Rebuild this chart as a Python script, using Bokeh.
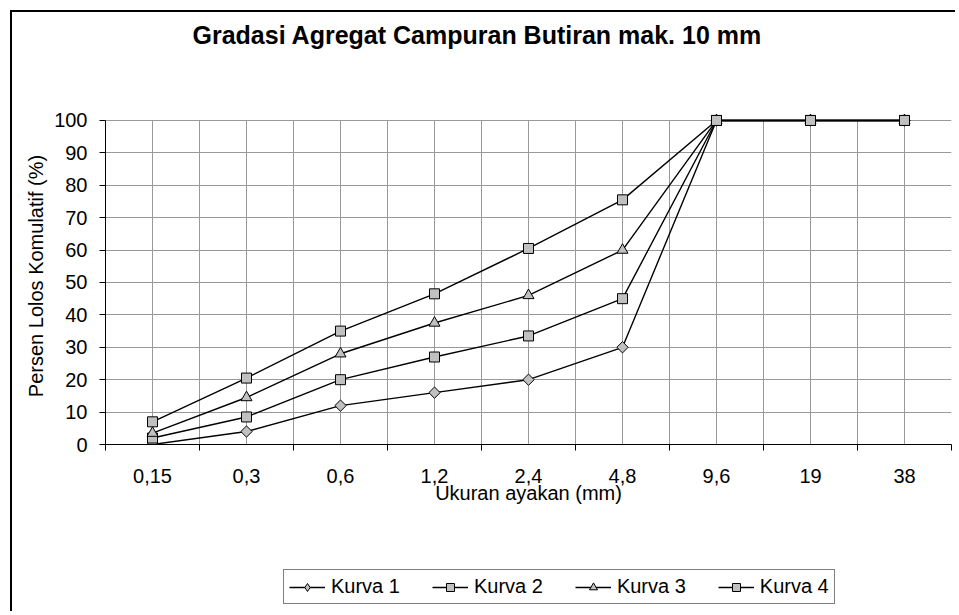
import numpy as np
from bokeh.plotting import figure
from bokeh.layouts import column
from bokeh.models import (Range1d, FixedTicker, Legend, LegendItem, LinearAxis, InlineStyleSheet)
from bokeh.embed import file_html
from bokeh.resources import INLINE

# ---- data ----
categories = ["0,15", "0,3", "0,6", "1,2", "2,4", "4,8", "9,6", "19", "38"]
kurva1 = [0, 4, 12, 16, 20, 30, 100, 100, 100]
kurva2 = [2, 8.5, 20, 27, 33.5, 45, 100, 100, 100]
kurva3 = [3.5, 14.5, 28, 37.5, 46, 60, 100, 100, 100]
kurva4 = [7, 20.5, 35, 46.5, 60.5, 75.5, 100, 100, 100]
series_names = ["Kurva 1", "Kurva 2", "Kurva 3", "Kurva 4"]
y_ticks = [0, 10, 20, 30, 40, 50, 60, 70, 80, 90, 100]

title_text = "Gradasi Agregat Campuran Butiran mak. 10 mm"
x_label = "Ukuran ayakan (mm)"
y_label = "Persen Lolos Komulatif (%)"

FONT = "Liberation Sans"
n = len(categories)
centers = np.arange(n) + 0.5
bounds = np.arange(n + 1).astype(float)
W = 955

p = figure(width=W, height=530, output_backend="svg", toolbar_location=None,
           x_range=Range1d(0, n), y_range=Range1d(0, 104),
           min_border_left=105, min_border_right=4, min_border_top=107, min_border_bottom=86)
p.outline_line_color = None
p.background_fill_color = "white"
p.border_fill_color = "white"

# grids
p.xgrid.visible = False
p.ygrid.ticker = FixedTicker(ticks=y_ticks)
p.ygrid.grid_line_color = "#999999"
p.ygrid.grid_line_width = 1
vg = np.arange(0.5, n, 0.5)
p.segment(x0=vg, y0=[0] * len(vg), x1=vg, y1=[100] * len(vg),
          line_color="#999999", line_width=1, level="underlay")

# x axis
xa = p.xaxis[0]
xa.ticker = FixedTicker(ticks=list(centers), minor_ticks=list(bounds))
xa.major_label_overrides = {float(c): lab for c, lab in zip(centers, categories)}
xa.major_tick_out = 0
xa.major_tick_in = 0
xa.minor_tick_out = 6
xa.minor_tick_in = 0
xa.minor_tick_line_color = "black"
xa.axis_line_color = "black"
xa.major_label_standoff = 18
xa.major_label_text_font = FONT
xa.major_label_text_font_size = "20px"
xa.major_label_text_color = "black"
xa.axis_label = x_label
xa.axis_label_text_font = FONT
xa.axis_label_text_font_size = "20px"
xa.axis_label_text_font_style = "normal"
xa.axis_label_text_color = "black"
xa.axis_label_standoff = -4

# y axis
ya = p.yaxis[0]
ya.ticker = FixedTicker(ticks=y_ticks)
ya.bounds = (0, 100)
ya.major_tick_out = 6
ya.major_tick_in = 0
ya.minor_tick_line_color = None
ya.axis_line_color = "black"
ya.major_label_standoff = 12
ya.major_label_text_font = FONT
ya.major_label_text_font_size = "20px"
ya.major_label_text_color = "black"
ya.axis_label = y_label
ya.axis_label_text_font = FONT
ya.axis_label_text_font_size = "20px"
ya.axis_label_text_font_style = "normal"
ya.axis_label_text_color = "black"
ya.axis_label_standoff = 4

# invisible spacer between plot area and title
p.add_layout(LinearAxis(ticker=FixedTicker(ticks=[0.0]), axis_line_color=None,
                        major_tick_out=54, major_tick_in=0, major_tick_line_color=None,
                        minor_tick_out=0, minor_tick_in=0, minor_tick_line_color=None,
                        major_label_standoff=0, major_label_text_color=None,
                        major_label_text_font_size="1px"), "above")

# title
p.title.text = title_text
p.title.align = "left"
p.title.offset = 87
p.title.standoff = 10
p.title.text_font = FONT
p.title.text_font_size = "25px"
p.title.text_font_style = "bold"
p.title.text_color = "black"

# legend strip (separate figure so the legend sits below the axis title)
pl = figure(width=W, height=81, output_backend="svg", toolbar_location=None,
            x_range=Range1d(-20, -10), y_range=Range1d(-20, -10),
            x_axis_type=None, y_axis_type=None,
            min_border_left=0, min_border_right=0, min_border_top=0, min_border_bottom=0)
pl.outline_line_color = None
pl.background_fill_color = "white"
pl.border_fill_color = "white"

# series
series = [kurva1, kurva2, kurva3, kurva4]
markers = [("square", np.pi / 4, 8), ("square", 0, 10), ("triangle", 0, 11), ("square", 0, 10)]
legend_markers = ["diamond", "square", "triangle", "square"]
items = []
for name, vals, (mk, ang, sz), lmk in zip(series_names, series, markers, legend_markers):
    p.line(centers, vals, line_color="black", line_width=1.4)
    p.scatter(centers, vals, marker=mk, angle=ang, size=sz,
              fill_color="#C0C0C0", line_color="black", line_width=1)
    l = pl.line(centers, vals, line_color="black", line_width=1.4)
    s = pl.scatter(centers, vals, marker=lmk, size=sz,
                   fill_color="#C0C0C0", line_color="black", line_width=1)
    items.append(LegendItem(label=name, renderers=[l, s]))

legend = Legend(items=items, orientation="horizontal", location=(178, 7),
                label_text_font=FONT, label_text_font_size="20px", label_text_color="black",
                glyph_width=36, glyph_height=20, label_height=20, label_standoff=6, spacing=32,
                padding=5, margin=0, border_line_color="black", border_line_width=1,
                background_fill_color="white", background_fill_alpha=1)
pl.add_layout(legend, "center")

layout = column(p, pl, spacing=0)
# outer chart-area frame (left and top edges visible)
layout.stylesheets = [InlineStyleSheet(css="""
:host::after { content: ""; position: absolute; left: 10px; top: 10px;
  width: calc(100% - 10px); height: calc(100% - 10px);
  border-left: 2px solid black; border-top: 2px solid black;
  box-sizing: border-box; pointer-events: none; z-index: 10; }
""")]
open("out.html", "w").write(file_html(layout, INLINE))
